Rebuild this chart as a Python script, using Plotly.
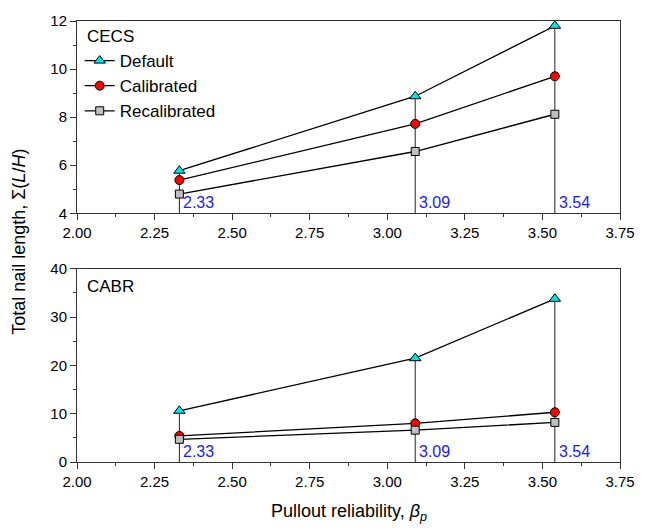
import plotly.graph_objects as go

beta = [2.33, 3.09, 3.54]
beta_labels = ["2.33", "3.09", "3.54"]

cecs_default = [5.77, 8.87, 11.8]
cecs_calibrated = [5.38, 7.72, 9.7]
cecs_recalibrated = [4.8, 6.57, 8.12]

cabr_default = [10.6, 21.5, 33.8]
cabr_calibrated = [5.4, 8.0, 10.3]
cabr_recalibrated = [4.7, 6.6, 8.2]

x_ticks = [2.00, 2.25, 2.50, 2.75, 3.00, 3.25, 3.50, 3.75]
top_range = [4, 12]
bot_range = [0, 40]

FONT = "Liberation Sans, Arial, sans-serif"

fig = go.Figure()

styles = [
    ("Default", "triangle-up", "#00e5e5", 10),
    ("Calibrated", "circle", "#ff0000", 9),
    ("Recalibrated", "square", "#c0c0c0", 8),
]

def add_panel(vals_list, xa, ya, ymin, showlegend):
    # vertical drop lines to the top (Default) point
    xs, ys = [], []
    for b, v in zip(beta, vals_list[0]):
        xs += [b, b, None]
        ys += [ymin, v, None]
    fig.add_trace(go.Scatter(x=xs, y=ys, mode="lines", xaxis=xa, yaxis=ya,
                             line=dict(color="#222222", width=1), showlegend=False,
                             hoverinfo="skip"))
    for (name, sym, col, sz), vals in zip(styles, vals_list):
        fig.add_trace(go.Scatter(
            x=beta, y=vals, mode="lines+markers", name=name, xaxis=xa, yaxis=ya,
            line=dict(color="black", width=1.3),
            marker=dict(symbol=sym, color=col, size=sz, line=dict(color="black", width=1)),
            showlegend=showlegend))

add_panel([cecs_default, cecs_calibrated, cecs_recalibrated], "x", "y", top_range[0], True)
add_panel([cabr_default, cabr_calibrated, cabr_recalibrated], "x2", "y2", bot_range[0], False)

axis_common = dict(
    showgrid=False, zeroline=False, showline=True, linecolor="#333333", linewidth=1,
    mirror=True, ticks="outside", ticklen=6, tickwidth=1, tickcolor="#333333",
    tickfont=dict(family=FONT, size=15, color="black"),
)
minor = dict(ticks="outside", ticklen=3, tickwidth=1, tickcolor="#333333")

fig.update_layout(
    width=650, height=530,
    margin=dict(l=77, r=30, t=17, b=68),
    plot_bgcolor="white", paper_bgcolor="white",
    font=dict(family=FONT, size=15, color="black"),
    xaxis=dict(axis_common, range=[2.0, 3.75], tickvals=x_ticks, tickformat=".2f",
               minor=dict(minor, dtick=0.125), anchor="y"),
    yaxis=dict(axis_common, range=top_range, dtick=2, minor=dict(minor, dtick=1),
               domain=[0.564, 1.0], anchor="x"),
    xaxis2=dict(axis_common, range=[2.0, 3.75], tickvals=x_ticks, tickformat=".2f",
                minor=dict(minor, dtick=0.125), anchor="y2"),
    yaxis2=dict(axis_common, range=bot_range, dtick=10, minor=dict(minor, dtick=5),
                domain=[0.0, 0.438], anchor="x2"),
    legend=dict(x=0.005, y=0.95, xref="paper", yref="paper", xanchor="left", yanchor="top",
                bgcolor="rgba(0,0,0,0)", font=dict(family=FONT, size=17),
                tracegroupgap=0, itemsizing="trace"),
    showlegend=True,
)

annotations = [
    dict(text="CECS", xref="x domain", yref="y domain", x=0.015, y=0.98,
         xanchor="left", yanchor="top", showarrow=False, font=dict(size=17)),
    dict(text="CABR", xref="x2 domain", yref="y2 domain", x=0.015, y=0.97,
         xanchor="left", yanchor="top", showarrow=False, font=dict(size=17)),
    dict(text="Total nail length, Σ(<i>L</i>/<i>H</i>)", xref="paper", yref="paper",
         x=-0.108, y=0.5, xanchor="center", yanchor="middle", textangle=-90,
         showarrow=False, font=dict(size=18)),
    dict(text="Pullout reliability, <i>β<sub>p</sub></i>", xref="paper", yref="paper",
         x=0.5, y=-0.085, xanchor="center", yanchor="top", showarrow=False,
         font=dict(size=18)),
]
for xa, ya in [("x", "y"), ("x2", "y2")]:
    for b, lab in zip(beta, beta_labels):
        annotations.append(dict(text=lab, xref=xa, yref=f"{ya} domain", x=b, y=0.0,
                                xanchor="left", yanchor="bottom", xshift=2, yshift=0,
                                showarrow=False, font=dict(size=16, color="#1a1aff")))
fig.update_layout(annotations=annotations)

fig.write_html("out.html")
